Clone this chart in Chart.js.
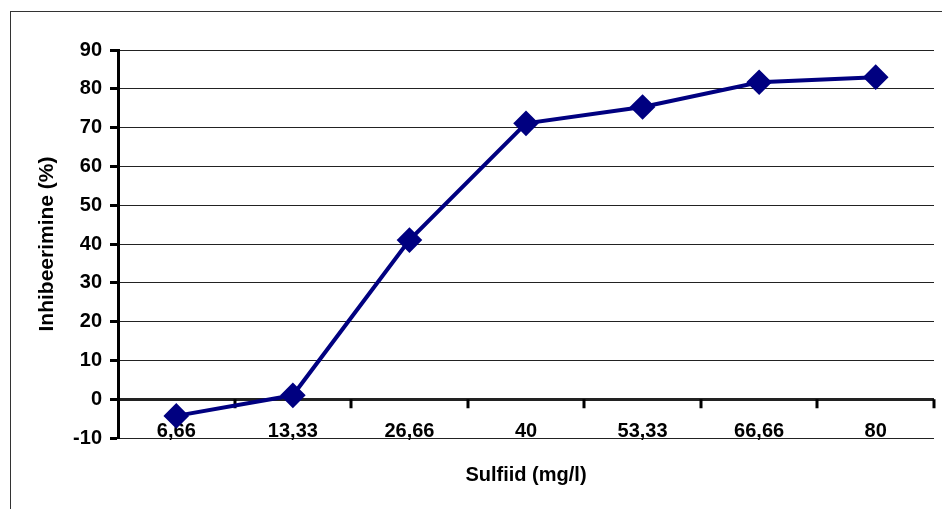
<!DOCTYPE html>
<html>
<head>
<meta charset="utf-8">
<script src="https://cdn.jsdelivr.net/npm/chart.js@4"></script>
<style>
  body { margin: 0; background: #fff; }
</style>
</head>
<body>
<canvas id="sulfiid" width="942" height="509"></canvas>
<script>
  const labels = ['6,66', '13,33', '26,66', '40', '53,33', '66,66', '80'];
  const inhibeerimine = [-4.3, 1.0, 41.0, 71.1, 75.3, 81.7, 83.0];
  const yMin = -10;
  const yMax = 90;
  const yStep = 10;

  const font = { family: "'Liberation Sans', Arial, sans-serif", size: 20, weight: 'bold' };
  const titleFont = { family: "'Liberation Sans', Arial, sans-serif", size: 21, weight: 'bold' };

  // white page plus the thin frame around the whole chart
  const frame = {
    id: 'frame',
    beforeDraw(chart) {
      const ctx = chart.ctx;
      ctx.save();
      ctx.fillStyle = '#fff';
      ctx.fillRect(0, 0, chart.width, chart.height);
      ctx.strokeStyle = '#333';
      ctx.lineWidth = 1;
      ctx.strokeRect(10.5, 11.5, chart.width + 10, chart.height + 10);
      ctx.restore();
    }
  };

  // category tick marks hanging under the zero line
  const zeroTicks = {
    id: 'zeroTicks',
    beforeDatasetsDraw(chart) {
      const x = chart.scales.x;
      const y0 = chart.scales.y.getPixelForValue(0);
      const half = (x.getPixelForValue(1) - x.getPixelForValue(0)) / 2;
      const ctx = chart.ctx;
      ctx.save();
      ctx.strokeStyle = '#000';
      ctx.lineWidth = 3;
      ctx.beginPath();
      for (let i = 0; i < labels.length; i++) {
        const px = Math.round(x.getPixelForValue(i) + half);
        ctx.moveTo(px, y0);
        ctx.lineTo(px, y0 + 9);
      }
      ctx.stroke();
      ctx.restore();
    }
  };

  const data = {
    labels: labels,
    datasets: [{
      data: inhibeerimine,
      borderColor: '#000080',
      backgroundColor: '#000080',
      borderWidth: 4,
      pointStyle: 'rectRot',
      pointRadius: 10,
      pointHoverRadius: 10,
      tension: 0
    }]
  };

  const config = {
    type: 'line',
    data: data,
    plugins: [frame, zeroTicks],
    options: {
      responsive: false,
      animation: false,
      layout: {
        autoPadding: false,
        padding: { top: 50, left: 31, right: 8, bottom: 18 }
      },
      plugins: {
        legend: { display: false },
        tooltip: { enabled: false }
      },
      scales: {
        x: {
          offset: true,
          grid: { display: false, drawTicks: false },
          border: { display: false },
          // labels sit just above the bottom gridline, inside the plot
          ticks: { color: '#000', font: font, mirror: true, padding: -5, maxRotation: 0 },
          title: { display: true, text: 'Sulfiid (mg/l)', color: '#000', font: font },
          afterFit(scale) { scale.height = 53; }
        },
        y: {
          min: yMin,
          max: yMax,
          ticks: { stepSize: yStep, color: '#000', font: font, padding: 8 },
          grid: {
            color: '#222',
            lineWidth: (c) => (c.tick && c.tick.value === 0 ? 3 : 1),
            tickColor: '#000',
            tickWidth: 3,
            tickLength: 8
          },
          border: { color: '#000', width: 3 },
          title: { display: true, text: 'Inhibeerimine (%)', color: '#000', font: titleFont },
          afterFit(scale) { scale.width = 87; }
        }
      }
    }
  };

  const chart = new Chart(document.getElementById('sulfiid'), config);
</script>
</body>
</html>
